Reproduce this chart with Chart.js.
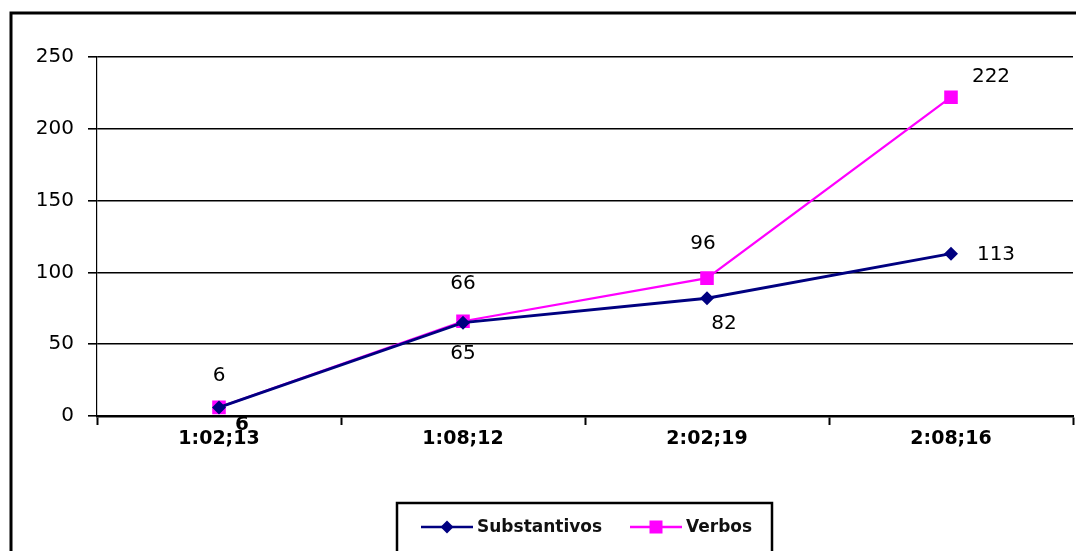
<!DOCTYPE html>
<html>
<head>
<meta charset="utf-8">
<script src="https://cdn.jsdelivr.net/npm/chart.js@4"></script>
<style>
  html, body { margin: 0; padding: 0; background: #fff; }
  #wrap { width: 1076px; height: 551px; position: relative; }
</style>
</head>
<body>
<div id="wrap"><canvas id="linha1"></canvas></div>
<script>
const idades = ['1:02;13', '1:08;12', '2:02;19', '2:08;16'];
const substantivos = [6, 65, 82, 113];
const verbos = [6, 66, 96, 222];
const yTicks = [0, 50, 100, 150, 200, 250];

// draws the value next to each point, offset per point
const rotulos = {
    id: 'rotulos',
    afterDatasetsDraw(chart) {
        const ctx = chart.ctx;
        chart.data.datasets.forEach((ds, i) => {
            const meta = chart.getDatasetMeta(i);
            meta.data.forEach((pt, j) => {
                const off = ds.labelOffsets[j];
                ctx.save();
                ctx.font = (off[2] ? 'bold ' : '') + '20px "DejaVu Sans"';
                ctx.fillStyle = '#000';
                ctx.textAlign = 'center';
                ctx.textBaseline = 'middle';
                ctx.fillText(ds.data[j], pt.x + off[0], pt.y + off[1]);
                ctx.restore();
            });
        });
    }
};

// outer frame and the boxed legend at the bottom
const moldura = {
    id: 'moldura',
    afterDraw(chart) {
        const ctx = chart.ctx;
        ctx.save();
        ctx.strokeStyle = '#000';
        ctx.lineWidth = 3;
        ctx.beginPath();
        ctx.moveTo(11, 551);
        ctx.lineTo(11, 13);
        ctx.lineTo(1076, 13);
        ctx.stroke();

        // legend box
        ctx.lineWidth = 2.5;
        ctx.beginPath();
        ctx.moveTo(397, 551);
        ctx.lineTo(397, 503);
        ctx.lineTo(772, 503);
        ctx.lineTo(772, 551);
        ctx.stroke();

        const itens = [
            { x: 421, ds: chart.data.datasets[0] },
            { x: 630, ds: chart.data.datasets[1] }
        ];
        ctx.font = 'bold 17px "DejaVu Sans"';
        ctx.textBaseline = 'middle';
        ctx.textAlign = 'left';
        itens.forEach(it => {
            const y = 527;
            ctx.strokeStyle = it.ds.borderColor;
            ctx.lineWidth = 2.5;
            ctx.beginPath();
            ctx.moveTo(it.x, y);
            ctx.lineTo(it.x + 52, y);
            ctx.stroke();
            ctx.fillStyle = it.ds.borderColor;
            const cx = it.x + 26;
            if (it.ds.pointStyle === 'rect') {
                ctx.fillRect(cx - 6.5, y - 6.5, 13, 13);
            } else {
                ctx.beginPath();
                ctx.moveTo(cx, y - 6.5);
                ctx.lineTo(cx + 6.5, y);
                ctx.lineTo(cx, y + 6.5);
                ctx.lineTo(cx - 6.5, y);
                ctx.closePath();
                ctx.fill();
            }
            ctx.fillStyle = '#111';
            ctx.fillText(it.ds.label, it.x + 56, y + 1);
        });
        ctx.restore();
    }
};

const ctx1 = document.getElementById('linha1');
new Chart(ctx1, {
    type: 'line',
    data: {
        labels: idades,
        datasets: [{
            label: 'Substantivos',
            data: substantivos,
            borderColor: '#000080',
            backgroundColor: '#000080',
            borderWidth: 2.8,
            pointStyle: 'rectRot',
            pointRadius: 7,
            pointBorderWidth: 0,
            labelOffsets: [[23, 17, true], [0, 31], [17, 26], [45, 1]]
        },
        {
            label: 'Verbos',
            data: verbos,
            borderColor: '#ff00ff',
            backgroundColor: '#ff00ff',
            borderWidth: 2.2,
            pointStyle: 'rect',
            pointRadius: 9.6,
            pointBorderWidth: 0,
            labelOffsets: [[0, -32], [0, -37], [-4, -34], [40, -20]]
        }]
    },
    options: {
        responsive: true,
        maintainAspectRatio: false,
        animation: false,
        layout: {
            autoPadding: false,
            padding: { left: 0, top: 57, right: 3, bottom: 0 }
        },
        plugins: {
            legend: { display: false },
            tooltip: { enabled: false }
        },
        scales: {
            x: {
                offset: true,
                grid: {
                    offset: true,
                    drawOnChartArea: false,
                    drawTicks: true,
                    tickLength: 9,
                    tickWidth: 2,
                    tickColor: '#000'
                },
                border: { color: '#000', width: 2.5 },
                ticks: {
                    color: '#000',
                    font: { family: 'DejaVu Sans', size: 19, weight: 'bold' },
                    padding: 3,
                    maxRotation: 0
                },
                afterFit(scale) {
                    scale.height = 135;
                    scale.paddingLeft = 0;
                    scale.paddingRight = 0;
                }
            },
            y: {
                min: 0,
                max: 250,
                afterBuildTicks(scale) { scale.ticks = yTicks.map(v => ({ value: v })); },
                grid: {
                    color: '#000',
                    lineWidth: 1.6,
                    drawTicks: true,
                    tickLength: 9,
                    tickColor: '#000'
                },
                border: { color: '#000', width: 1.2 },
                ticks: {
                    color: '#000',
                    font: { family: 'DejaVu Sans', size: 20 },
                    padding: 14
                },
                afterFit(scale) { scale.width = 97; }
            }
        }
    },
    plugins: [rotulos, moldura]
});
</script>
</body>
</html>
